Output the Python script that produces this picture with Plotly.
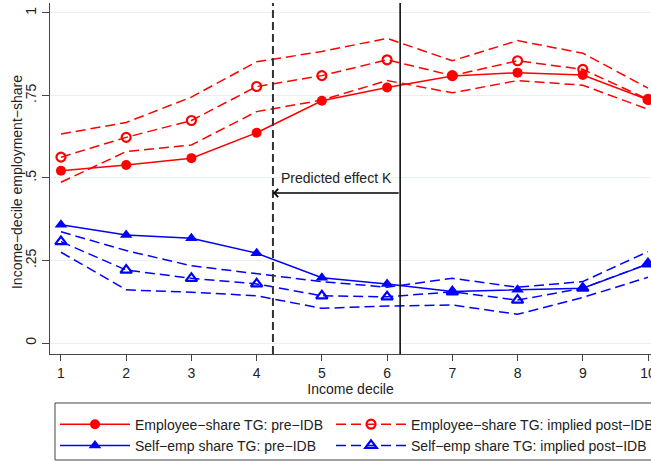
import plotly.graph_objects as go

deciles = [1, 2, 3, 4, 5, 6, 7, 8, 9, 10]

emp_pre = [0.522, 0.539, 0.560, 0.637, 0.734, 0.774, 0.809, 0.819, 0.812, 0.737]
emp_post = [0.563, 0.623, 0.674, 0.777, 0.810, 0.858, 0.810, 0.855, 0.829, 0.738]
emp_post_hi = [0.633, 0.668, 0.745, 0.852, 0.883, 0.923, 0.855, 0.916, 0.878, 0.772]
emp_post_lo = [0.487, 0.580, 0.600, 0.701, 0.736, 0.795, 0.758, 0.795, 0.781, 0.708]

self_pre = [0.358, 0.327, 0.317, 0.272, 0.198, 0.179, 0.156, 0.161, 0.166, 0.239]
self_post = [0.307, 0.221, 0.196, 0.179, 0.143, 0.140, 0.155, 0.130, 0.166, 0.240]
self_post_hi = [0.337, 0.280, 0.234, 0.209, 0.186, 0.169, 0.196, 0.169, 0.186, 0.277]
self_post_lo = [0.275, 0.161, 0.154, 0.143, 0.105, 0.112, 0.115, 0.087, 0.138, 0.199]

y_ticks = [0, 0.25, 0.5, 0.75, 1]
y_tick_labels = ["0", ".25", ".5", ".75", "1"]

cutoff_dashed = 4.25
cutoff_solid = 6.2
arrow_y = 0.4545
label_y = 0.5

RED = "#ff0000"
BLUE = "#0000ff"
DASH = "10px,5px"
FONT = "Liberation Sans, Arial, Helvetica, sans-serif"

fig = go.Figure()

# confidence bands (no legend)
for ys, col in [(emp_post_hi, RED), (emp_post_lo, RED), (self_post_hi, BLUE), (self_post_lo, BLUE)]:
    fig.add_trace(go.Scatter(x=deciles, y=ys, mode="lines", showlegend=False, hoverinfo="skip",
                             line=dict(color=col, width=1.5, dash=DASH)))

fig.add_trace(go.Scatter(x=deciles, y=emp_pre, mode="lines+markers", name="Employee−share TG: pre−IDB",
                         legend="legend",
                         line=dict(color=RED, width=1.5),
                         marker=dict(symbol="circle", size=10, color=RED)))
fig.add_trace(go.Scatter(x=deciles, y=self_pre, mode="lines+markers", name="Self−emp share TG: pre−IDB",
                         legend="legend",
                         line=dict(color=BLUE, width=1.5),
                         marker=dict(symbol="triangle-up", size=11, color=BLUE)))
fig.add_trace(go.Scatter(x=deciles, y=emp_post, mode="lines+markers", name="Employee−share TG: implied post−IDB",
                         legend="legend2",
                         line=dict(color=RED, width=1.5, dash=DASH),
                         marker=dict(symbol="circle-open", size=9, color=RED, line=dict(width=2.2, color=RED))))
fig.add_trace(go.Scatter(x=deciles, y=self_post, mode="lines+markers", name="Self−emp share TG: implied post−IDB",
                         legend="legend2",
                         line=dict(color=BLUE, width=1.5, dash=DASH),
                         marker=dict(symbol="triangle-up-open", size=10, color=BLUE, line=dict(width=2.2, color=BLUE))))

fig.add_shape(type="line", xref="x", yref="paper", x0=cutoff_dashed, x1=cutoff_dashed, y0=0, y1=1,
              line=dict(color="#333333", width=2, dash="8px,4px"))
fig.add_shape(type="line", xref="x", yref="paper", x0=cutoff_solid, x1=cutoff_solid, y0=0, y1=1,
              line=dict(color="#000000", width=1.5))

# legend frame (extends past the right edge like the reference)
fig.add_shape(type="rect", xref="paper", yref="paper", x0=0.0083, x1=1.1, y0=-0.1396, y1=-0.3020,
              line=dict(color="#444444", width=1), fillcolor="white", layer="above")

fig.add_annotation(x=cutoff_dashed, y=arrow_y, ax=cutoff_solid, ay=arrow_y, xref="x", yref="y",
                   axref="x", ayref="y", text="", showarrow=True, arrowhead=4, arrowsize=1.2,
                   arrowwidth=1.3, arrowcolor="#000000", standoff=0, startstandoff=0)
fig.add_annotation(x=(cutoff_dashed + cutoff_solid) / 2, y=label_y, xref="x", yref="y",
                   text="Predicted effect K", showarrow=False,
                   font=dict(size=14, color="#222222", family=FONT))

# y-axis title
fig.add_annotation(x=-0.0549, y=0.49, xref="paper", yref="paper", xanchor="center", yanchor="middle",
                   text="Income−decile employment−share", textangle=-90, showarrow=False,
                   font=dict(size=14, color="#222222", family=FONT))

legend_style = dict(orientation="v", yanchor="top", xanchor="left", itemwidth=70,
                    borderwidth=0, bgcolor="rgba(0,0,0,0)",
                    font=dict(size=14, family=FONT, color="#222222"),
                    traceorder="normal", tracegroupgap=0)

fig.update_layout(
    width=651, height=462,
    margin=dict(l=50, r=0, t=3, b=108, autoexpand=False),
    paper_bgcolor="white", plot_bgcolor="white",
    font=dict(family=FONT, size=14, color="#222222"),
    legend=dict(x=0.0083, y=-0.1555, **legend_style),
    legend2=dict(x=0.4676, y=-0.1555, **legend_style),
)
fig.update_xaxes(range=[0.832, 10.046], tickmode="array", tickvals=deciles,
                 ticks="outside", ticklen=6, tickcolor="#444444", showline=True, linecolor="#444444",
                 linewidth=1, showgrid=False, zeroline=False, mirror=False, ticklabeloverflow="allow",
                 title=dict(text="Income decile", standoff=2, font=dict(size=14)),
                 tickfont=dict(size=14))
fig.update_yaxes(range=[-0.0333, 1.03], tickmode="array", tickvals=y_ticks, ticktext=y_tick_labels,
                 tickangle=-90, ticks="outside", ticklen=7, tickcolor="#444444", showline=True,
                 linecolor="#444444", linewidth=1, showgrid=True, gridcolor="#e8f0f1", gridwidth=1.2,
                 zeroline=False, tickfont=dict(size=14))

fig.write_html("out.html")
